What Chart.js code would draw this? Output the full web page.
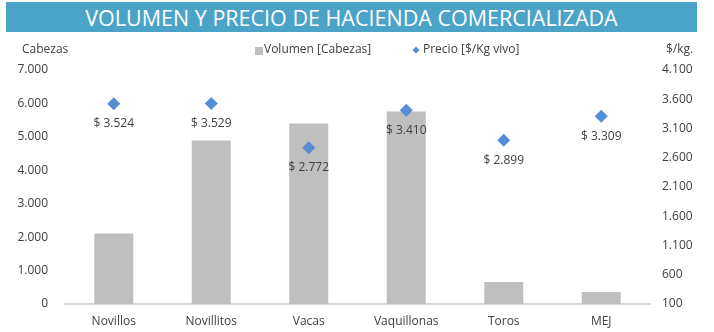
<!DOCTYPE html>
<html>
<head>
<meta charset="utf-8">
<script src="https://cdn.jsdelivr.net/npm/chart.js@4/dist/chart.umd.min.js"></script>
<style>
  html, body { margin: 0; padding: 0; background: #fff; }
  #wrap { position: relative; width: 714px; height: 332px; }
  #titulo {
    position: absolute; left: 6px; top: 2px; width: 691px; height: 30px;
    background: #4BA3C7; color: #fff; text-align: center;
    font: 21.5px "Open Sans", sans-serif; line-height: 31px;
  }
  canvas { position: absolute; left: 0; top: 0; }
</style>
</head>
<body>
<div id="wrap">
  <canvas id="grafico" width="714" height="332"></canvas>
  <div id="titulo">VOLUMEN Y PRECIO DE HACIENDA COMERCIALIZADA</div>
</div>
<script>
let categorias = ['Novillos', 'Novillitos', 'Vacas', 'Vaquillonas', 'Toros', 'MEJ'];
let volumen = [2110, 4890, 5400, 5760, 660, 360];   // cabezas
let precio = [3524, 3529, 2772, 3410, 2899, 3309];  // $/kg vivo

const fuente = '"Open Sans", sans-serif';
const gris = '#404040';

// miles con punto
const fmt = v => String(Math.round(v)).replace(/\B(?=(\d{3})+(?!\d))/g, '.');

// leyenda, titulos de ejes y etiquetas de precio
const extras = {
    id: 'extras',
    afterDatasetsDraw(chart) {
        const ctx = chart.ctx;
        ctx.save();
        ctx.font = '12px ' + fuente;
        ctx.fillStyle = gris;
        ctx.textBaseline = 'middle';

        // etiquetas "$ x.xxx" debajo de cada rombo
        ctx.textAlign = 'center';
        chart.getDatasetMeta(1).data.forEach((pt, i) => {
            ctx.fillText('$ ' + fmt(precio[i]), pt.x, pt.y + 20);
        });

        // titulos de los ejes
        ctx.textAlign = 'left';
        ctx.fillText('Cabezas', 22, 50);
        ctx.fillText('$/kg.', 666, 50);

        // leyenda
        const ds = chart.data.datasets;
        ctx.fillStyle = ds[0].backgroundColor;
        ctx.fillRect(255, 47, 8, 8);
        ctx.fillStyle = gris;
        ctx.fillText(ds[0].label, 264, 50);

        ctx.fillStyle = ds[1].backgroundColor;
        ctx.beginPath();
        ctx.moveTo(416, 46.5); ctx.lineTo(419.5, 50); ctx.lineTo(416, 53.5); ctx.lineTo(412.5, 50);
        ctx.closePath();
        ctx.fill();
        ctx.fillStyle = gris;
        ctx.fillText(ds[1].label, 423, 50);
        ctx.restore();
    }
};

new Chart(document.getElementById('grafico'), {
    data: {
        labels: categorias,
        datasets: [
            {
                type: 'bar',
                label: 'Volumen [Cabezas]',
                data: volumen,
                yAxisID: 'y',
                backgroundColor: '#BFBFBF',
                categoryPercentage: 1,
                barPercentage: 0.4,
                order: 1
            },
            {
                type: 'line',
                label: 'Precio [$/Kg vivo]',
                data: precio,
                yAxisID: 'y1',
                showLine: false,
                backgroundColor: '#558ED5',
                borderColor: '#558ED5',
                pointStyle: 'rectRot',
                pointRadius: 6.5,
                pointBorderWidth: 0,
                order: 0
            }
        ]
    },
    options: {
        responsive: false,
        animation: false,
        layout: { padding: { top: 70, bottom: 0, left: 0, right: 0 } },
        plugins: {
            legend: { display: false },
            title: { display: false },
            tooltip: { enabled: false }
        },
        scales: {
            x: {
                grid: { display: false, drawTicks: false },
                border: { display: true, color: '#D9D9D9', width: 2 },
                ticks: { color: gris, font: { family: fuente, size: 12 }, padding: 10 },
                afterFit(s) { s.height = 28; }
            },
            y: {
                position: 'left',
                min: 0, max: 7000,
                grid: { display: false, drawTicks: false },
                border: { display: false },
                ticks: {
                    stepSize: 1000, color: gris, padding: 17,
                    font: { family: fuente, size: 12 },
                    callback: v => fmt(v)
                },
                afterFit(s) { s.width = 65; }
            },
            y1: {
                position: 'right',
                min: 100, max: 4100,
                grid: { display: false, drawTicks: false },
                border: { display: false },
                ticks: {
                    stepSize: 500, color: gris, padding: 12,
                    font: { family: fuente, size: 12 },
                    callback: v => fmt(v)
                },
                afterFit(s) { s.width = 64; }
            }
        }
    },
    plugins: [extras]
});
</script>
</body>
</html>
